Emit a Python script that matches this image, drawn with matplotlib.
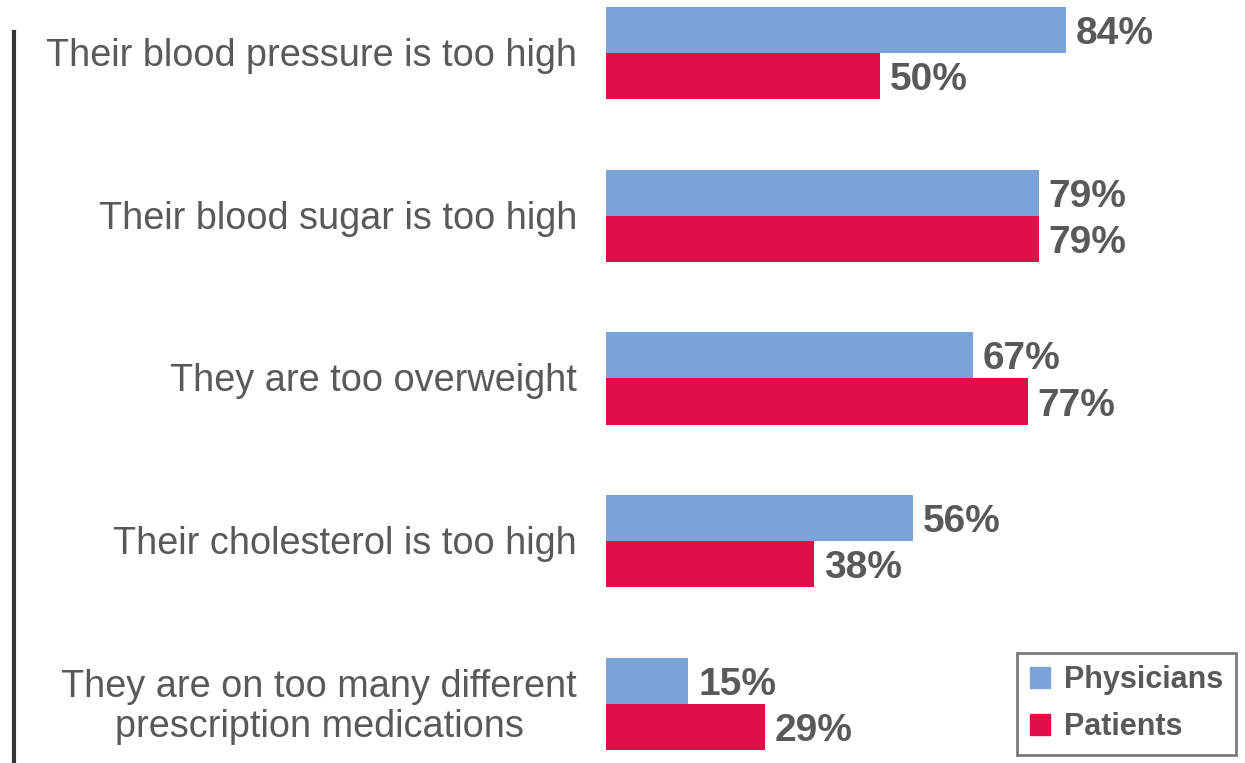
#!/usr/bin/env python3
import matplotlib
matplotlib.use('Agg')
import matplotlib.pyplot as plt
from matplotlib.lines import Line2D
from matplotlib.patches import Patch

plt.rcParams['font.family'] = ['Liberation Sans', 'DejaVu Sans']

categories = [
	'Their blood pressure is too high',
	'Their blood sugar is too high',
	'They are too overweight',
	'Their cholesterol is too high',
	'They are on too many different\nprescription medications',
]
physicians = [84, 79, 67, 56, 15]
patients = [50, 79, 77, 38, 29]
series_names = ['Physicians', 'Patients']

BLUE = '#7BA3D8'
RED = '#E20E4A'
GRAY = '#595959'

W, H = 1245, 763
fig = plt.figure(figsize=(W / 100, H / 100), dpi=100)
ax = fig.add_axes([606 / W, 0, 1 - 606 / W, 1])

bh = 0.283
ys = list(range(len(categories)))
ax.barh([y - bh / 2 for y in ys], physicians, height=bh, color=BLUE, label=series_names[0])
ax.barh([y + bh / 2 for y in ys], patients, height=bh, color=RED, label=series_names[1])

# value labels: baseline placed so cap height is centred on the bar
for offs, vals in ((-bh / 2, physicians), (bh / 2, patients)):
	for y, v in zip(ys, vals):
		ax.annotate('{}%'.format(v), xy=(v, y + offs), xytext=(10, -14),
					textcoords='offset pixels', va='baseline', ha='left',
					fontsize=28, fontweight='bold', color=GRAY)

ax.set_xlim(0, (W - 606) / 5.476)
ax.set_ylim(4.363, -0.326)
ax.axis('off')

# category labels to the left of the bars
for y, c in zip(ys, categories):
	ax.annotate(c, xy=(0, y), xycoords=('axes fraction', 'data'),
				xytext=(577 - 606, -3), textcoords='offset pixels',
				ha='right', va='center', multialignment='center',
				fontsize=27.3, color=GRAY, linespacing=1.15)

# dark vertical rule on the left
fig.add_artist(Line2D([14 / W, 14 / W], [0, 1 - 32 / H], transform=fig.transFigure,
					  color='#333333', linewidth=3))

handles = [Patch(color=BLUE), Patch(color=RED)]
leg = fig.legend(handles, series_names, loc='lower right',
				 bbox_to_anchor=(1236 / W, 8 / H), frameon=True, fancybox=False,
				 prop={'size': 22, 'weight': 'bold'}, handlelength=0.65, handleheight=0.65,
				 handletextpad=0.45, borderpad=0.42, labelspacing=0.55, borderaxespad=0)
leg.get_frame().set_edgecolor(GRAY)
leg.get_frame().set_linewidth(2)
for t in leg.get_texts():
	t.set_color(GRAY)

fig.savefig('out.png', dpi=100)
